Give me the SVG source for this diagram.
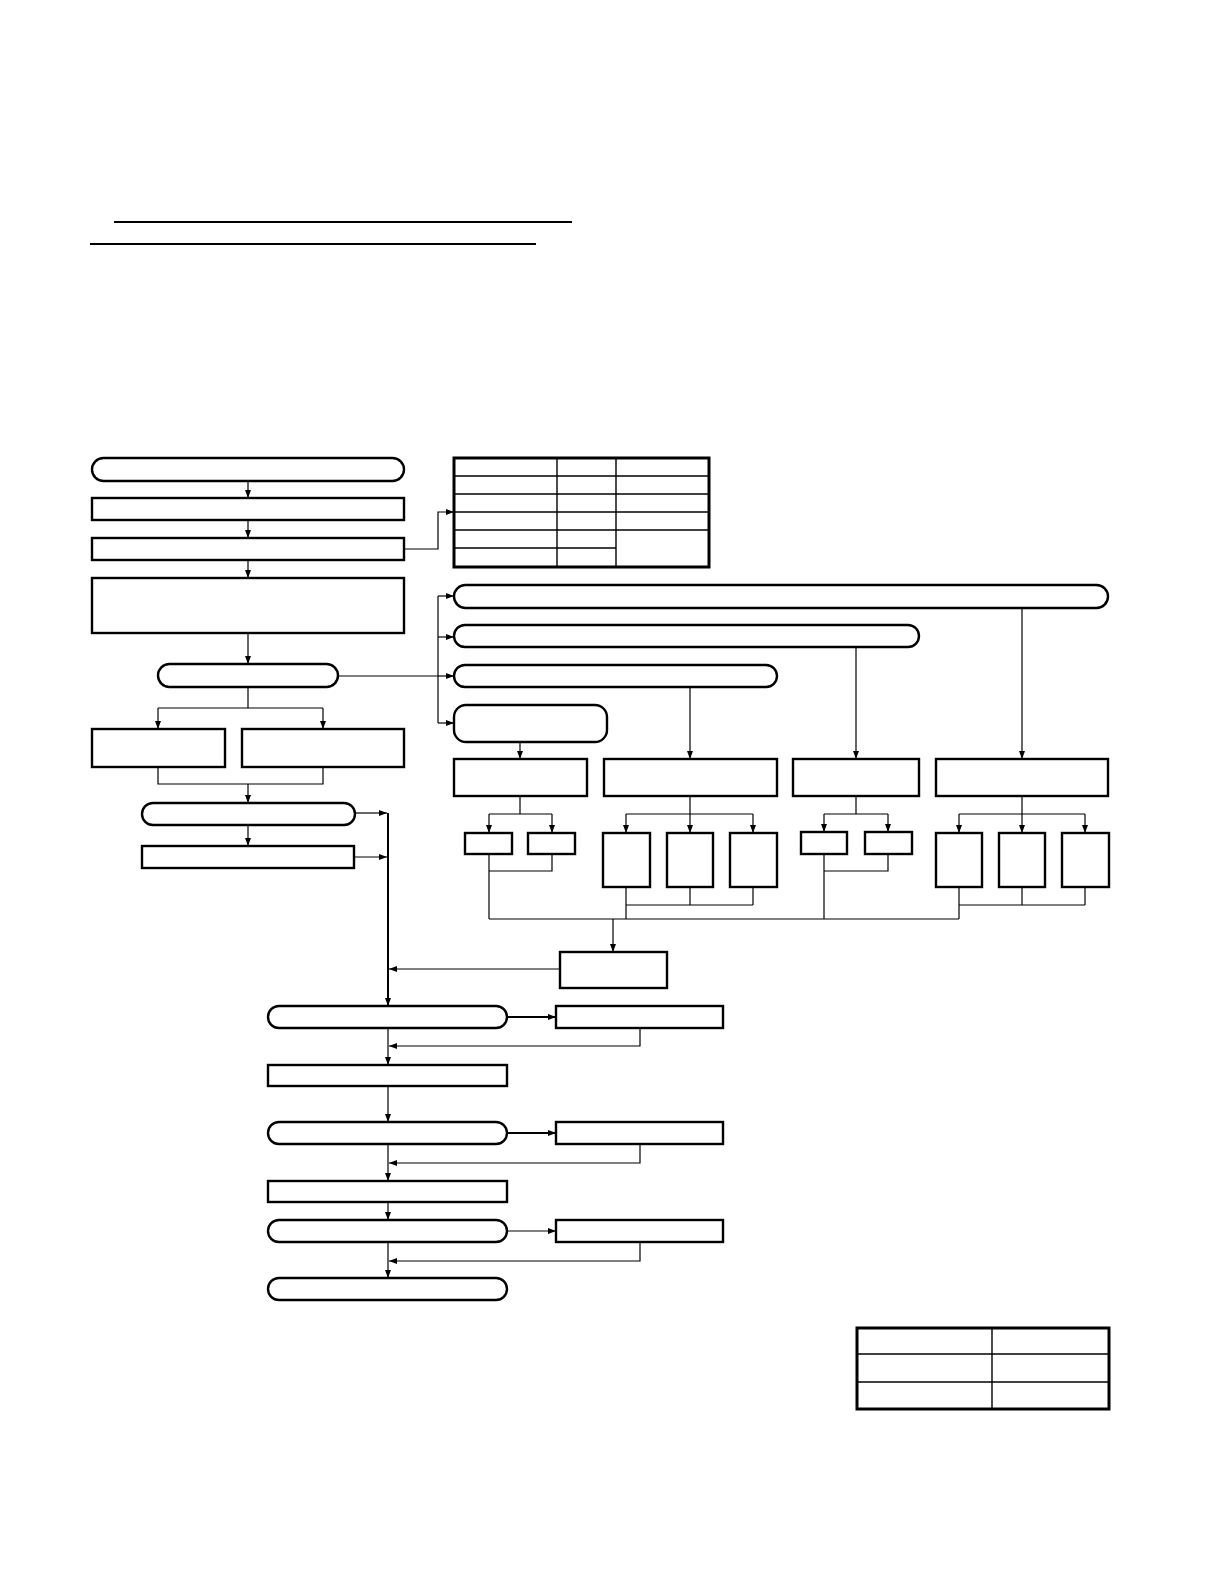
<svg xmlns="http://www.w3.org/2000/svg" width="1224" height="1584" viewBox="0 0 1224 1584">
<defs>
<marker id="ah" markerUnits="userSpaceOnUse" markerWidth="9" markerHeight="7" refX="8" refY="3" orient="auto">
<path d="M0,0 L8,3 L0,6 z" fill="#000"/>
</marker>
<style>
.n{fill:#fff;stroke:#000;stroke-width:2.4}
.t{fill:none;stroke:#000;stroke-width:1.4}
.c{fill:none;stroke:#000;stroke-width:1.2}
.a{fill:none;stroke:#000;stroke-width:1.2;marker-end:url(#ah)}
.ab{fill:none;stroke:#000;stroke-width:2;marker-end:url(#ah)}
.r{fill:none;stroke:#000;stroke-width:1.8}
</style>
</defs>
<rect width="1224" height="1584" fill="#fff"/>
<g id="rules">
<line class="r" x1="114" y1="222" x2="572" y2="222"/>
<line class="r" x1="90" y1="244" x2="536" y2="244"/>
</g>
<g id="connectors">
<line class="a" x1="248" y1="481" x2="248" y2="498"/>
<line class="a" x1="248" y1="520" x2="248" y2="538"/>
<line class="a" x1="248" y1="560" x2="248" y2="578"/>
<line class="a" x1="248" y1="633" x2="248" y2="664"/>
<polyline class="a" points="404,549 438,549 438,512 454,512"/>
<line class="c" x1="338" y1="676" x2="438" y2="676"/>
<line class="c" x1="438" y1="596" x2="438" y2="723"/>
<line class="a" x1="438" y1="596" x2="454" y2="596"/>
<line class="a" x1="438" y1="637" x2="454" y2="637"/>
<line class="a" x1="438" y1="676" x2="454" y2="676"/>
<line class="a" x1="438" y1="723" x2="454" y2="723"/>
<line class="c" x1="248" y1="687" x2="248" y2="708"/>
<line class="c" x1="158" y1="708" x2="323" y2="708"/>
<line class="a" x1="158" y1="708" x2="158" y2="729"/>
<line class="a" x1="323" y1="708" x2="323" y2="729"/>
<polyline class="c" points="158,767 158,784 323,784 323,767"/>
<line class="a" x1="248" y1="784" x2="248" y2="803"/>
<line class="a" x1="248" y1="825" x2="248" y2="846"/>
<line class="a" x1="355" y1="813" x2="387" y2="813"/>
<line class="a" x1="354" y1="857" x2="387" y2="857"/>
<line class="ab" x1="388" y1="813" x2="388" y2="1006"/>
<line class="a" x1="520" y1="742" x2="520" y2="759"/>
<line class="a" x1="690" y1="687" x2="690" y2="759"/>
<line class="a" x1="856" y1="647" x2="856" y2="759"/>
<line class="a" x1="1022" y1="608" x2="1022" y2="759"/>
<line class="c" x1="520" y1="796" x2="520" y2="814"/>
<line class="c" x1="489" y1="814" x2="552" y2="814"/>
<line class="a" x1="489" y1="814" x2="489" y2="833"/>
<line class="a" x1="552" y1="814" x2="552" y2="833"/>
<line class="c" x1="489" y1="854" x2="489" y2="919"/>
<polyline class="c" points="552,854 552,871 489,871"/>
<line class="c" x1="690" y1="796" x2="690" y2="814"/>
<line class="c" x1="626" y1="814" x2="753" y2="814"/>
<line class="a" x1="626" y1="814" x2="626" y2="833"/>
<line class="a" x1="690" y1="814" x2="690" y2="833"/>
<line class="a" x1="753" y1="814" x2="753" y2="833"/>
<line class="c" x1="626" y1="887" x2="626" y2="919"/>
<line class="c" x1="690" y1="887" x2="690" y2="905"/>
<line class="c" x1="753" y1="887" x2="753" y2="905"/>
<line class="c" x1="626" y1="905" x2="753" y2="905"/>
<line class="c" x1="856" y1="796" x2="856" y2="814"/>
<line class="c" x1="824" y1="814" x2="888" y2="814"/>
<line class="a" x1="824" y1="814" x2="824" y2="832"/>
<line class="a" x1="888" y1="814" x2="888" y2="832"/>
<line class="c" x1="824" y1="854" x2="824" y2="919"/>
<polyline class="c" points="888,854 888,871 824,871"/>
<line class="c" x1="1022" y1="796" x2="1022" y2="814"/>
<line class="c" x1="959" y1="814" x2="1085" y2="814"/>
<line class="a" x1="959" y1="814" x2="959" y2="833"/>
<line class="a" x1="1022" y1="814" x2="1022" y2="833"/>
<line class="a" x1="1085" y1="814" x2="1085" y2="833"/>
<line class="c" x1="959" y1="887" x2="959" y2="919"/>
<line class="c" x1="1022" y1="887" x2="1022" y2="905"/>
<line class="c" x1="1085" y1="887" x2="1085" y2="905"/>
<line class="c" x1="959" y1="905" x2="1085" y2="905"/>
<line class="c" x1="489" y1="919" x2="959" y2="919"/>
<line class="a" x1="613" y1="919" x2="613" y2="952"/>
<line class="a" x1="560" y1="969" x2="389" y2="969"/>
<line class="ab" x1="507" y1="1017" x2="556" y2="1017"/>
<polyline class="a" points="640,1028 640,1046 389,1046"/>
<line class="a" x1="388" y1="1028" x2="388" y2="1065"/>
<line class="a" x1="388" y1="1086" x2="388" y2="1122"/>
<line class="ab" x1="507" y1="1133" x2="556" y2="1133"/>
<polyline class="a" points="640,1144 640,1163 389,1163"/>
<line class="a" x1="388" y1="1144" x2="388" y2="1181"/>
<line class="a" x1="388" y1="1202" x2="388" y2="1220"/>
<line class="a" x1="507" y1="1231" x2="556" y2="1231"/>
<polyline class="a" points="640,1242 640,1261 389,1261"/>
<line class="a" x1="388" y1="1242" x2="388" y2="1278"/>
</g>
<g id="nA"><rect class="n" x="92" y="458" width="312" height="23" rx="11.5"/></g>
<g id="nB"><rect class="n" x="92" y="498" width="312" height="22"/></g>
<g id="nC"><rect class="n" x="92" y="538" width="312" height="22"/></g>
<g id="nD"><rect class="n" x="92" y="578" width="312" height="55"/></g>
<g id="nE"><rect class="n" x="158" y="664" width="180" height="23" rx="11.5"/></g>
<g id="nF"><rect class="n" x="92" y="729" width="133" height="38"/></g>
<g id="nG"><rect class="n" x="242" y="729" width="162" height="38"/></g>
<g id="nH"><rect class="n" x="142" y="803" width="213" height="22" rx="11"/></g>
<g id="nI"><rect class="n" x="142" y="846" width="212" height="22"/></g>
<g id="table1">
<rect class="n" x="454" y="458" width="255" height="109" style="stroke-width:3"/>
<line class="t" x1="557" y1="458" x2="557" y2="567"/>
<line class="t" x1="616" y1="458" x2="616" y2="567"/>
<line class="t" x1="454" y1="476" x2="709" y2="476"/>
<line class="t" x1="454" y1="494" x2="709" y2="494"/>
<line class="t" x1="454" y1="512" x2="709" y2="512"/>
<line class="t" x1="454" y1="530" x2="709" y2="530"/>
<line class="t" x1="454" y1="548" x2="616" y2="548"/>
</g>
<g id="nK1"><rect class="n" x="454" y="585" width="654" height="23" rx="11.5"/></g>
<g id="nK2"><rect class="n" x="454" y="625" width="465" height="22" rx="11"/></g>
<g id="nK3"><rect class="n" x="454" y="665" width="323" height="22" rx="11"/></g>
<g id="nK4"><rect class="n" x="454" y="705" width="153" height="37" rx="12"/></g>
<g id="nL1"><rect class="n" x="454" y="759" width="133" height="37"/></g>
<g id="nL2"><rect class="n" x="604" y="759" width="173" height="37"/></g>
<g id="nL3"><rect class="n" x="793" y="759" width="126" height="37"/></g>
<g id="nL4"><rect class="n" x="936" y="759" width="172" height="37"/></g>
<g id="nM1"><rect class="n" x="465" y="833" width="47" height="21"/></g>
<g id="nM2"><rect class="n" x="528" y="833" width="47" height="21"/></g>
<g id="nN1"><rect class="n" x="603" y="833" width="47" height="54"/></g>
<g id="nN2"><rect class="n" x="667" y="833" width="46" height="54"/></g>
<g id="nN3"><rect class="n" x="730" y="833" width="47" height="54"/></g>
<g id="nM3"><rect class="n" x="801" y="832" width="46" height="22"/></g>
<g id="nM4"><rect class="n" x="865" y="832" width="47" height="22"/></g>
<g id="nN4"><rect class="n" x="936" y="833" width="46" height="54"/></g>
<g id="nN5"><rect class="n" x="999" y="833" width="46" height="54"/></g>
<g id="nN6"><rect class="n" x="1062" y="833" width="47" height="54"/></g>
<g id="nP"><rect class="n" x="560" y="952" width="107" height="36"/></g>
<g id="nJ1"><rect class="n" x="268" y="1006" width="239" height="22" rx="11"/></g>
<g id="nQ1"><rect class="n" x="556" y="1006" width="167" height="22"/></g>
<g id="nR1"><rect class="n" x="268" y="1065" width="239" height="21"/></g>
<g id="nJ2"><rect class="n" x="268" y="1122" width="239" height="22" rx="11"/></g>
<g id="nQ2"><rect class="n" x="556" y="1122" width="167" height="22"/></g>
<g id="nR2"><rect class="n" x="268" y="1181" width="239" height="21"/></g>
<g id="nJ3"><rect class="n" x="268" y="1220" width="239" height="22" rx="11"/></g>
<g id="nQ3"><rect class="n" x="556" y="1220" width="167" height="22"/></g>
<g id="nJ4"><rect class="n" x="268" y="1278" width="239" height="22" rx="11"/></g>
<g id="table2">
<rect class="n" x="857" y="1328" width="252" height="81" style="stroke-width:3"/>
<line class="t" x1="992" y1="1328" x2="992" y2="1409"/>
<line class="t" x1="857" y1="1354" x2="1109" y2="1354"/>
<line class="t" x1="857" y1="1382" x2="1109" y2="1382"/>
</g>
</svg>
